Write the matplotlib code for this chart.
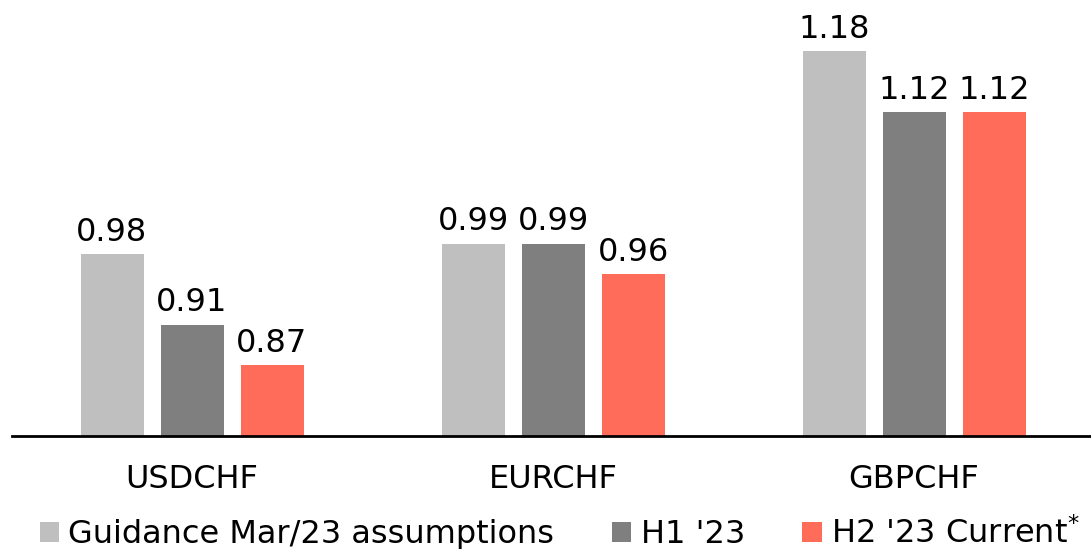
import matplotlib
matplotlib.use("Agg")
import matplotlib.pyplot as plt
import numpy as np

categories = ["USDCHF", "EURCHF", "GBPCHF"]
series_names = ["Guidance Mar/23 assumptions", "H1 '23", "H2 '23 Current$^{*}$"]
guidance = [0.98, 0.99, 1.18]
h1 = [0.91, 0.99, 1.12]
h2 = [0.87, 0.96, 1.12]
colors = ["#BFBFBF", "#7F7F7F", "#FF6D5A"]

plt.rcParams['font.family'] = ['DejaVu Sans']
fig = plt.figure(figsize=(10.91, 5.49), dpi=100)
ax = fig.add_axes([12/1091, 1-436/549, 1079/1091, 436/549])

x = np.arange(len(categories))
width = 63/361
offset = 80/361
handles = []
for i, (vals, name, c) in enumerate(zip([guidance, h1, h2], series_names, colors)):
    b = ax.bar(x + (i-1)*offset, vals, width=width, color=c, label=name, zorder=2)
    handles.append(b)
    for xi, v in zip(x + (i-1)*offset, vals):
        ax.text(xi, v + 0.006, f"{v:.2f}", ha='center', va='bottom', fontsize=23, color='black')

ax.set_ylim(0.8, 0.8 + 436/1013)
ax.set_xlim(-(192-12)/361, (1091-192)/361)
for s in ['top', 'right', 'left']:
    ax.spines[s].set_visible(False)
ax.spines['bottom'].set_linewidth(2)
ax.spines['bottom'].set_color('black')
ax.set_yticks([])
ax.set_xticks(x)
ax.set_xticklabels(categories, fontsize=23)
ax.tick_params(axis='x', length=0, pad=20)

fig.legend(handles=handles, labels=series_names, loc='lower center',
           bbox_to_anchor=(0.513, -0.025), ncol=3, frameon=False, fontsize=23,
           handlelength=0.6, handleheight=0.6, handletextpad=0.3,
           columnspacing=1.8, borderaxespad=0)

fig.savefig("out.png", dpi=100)
